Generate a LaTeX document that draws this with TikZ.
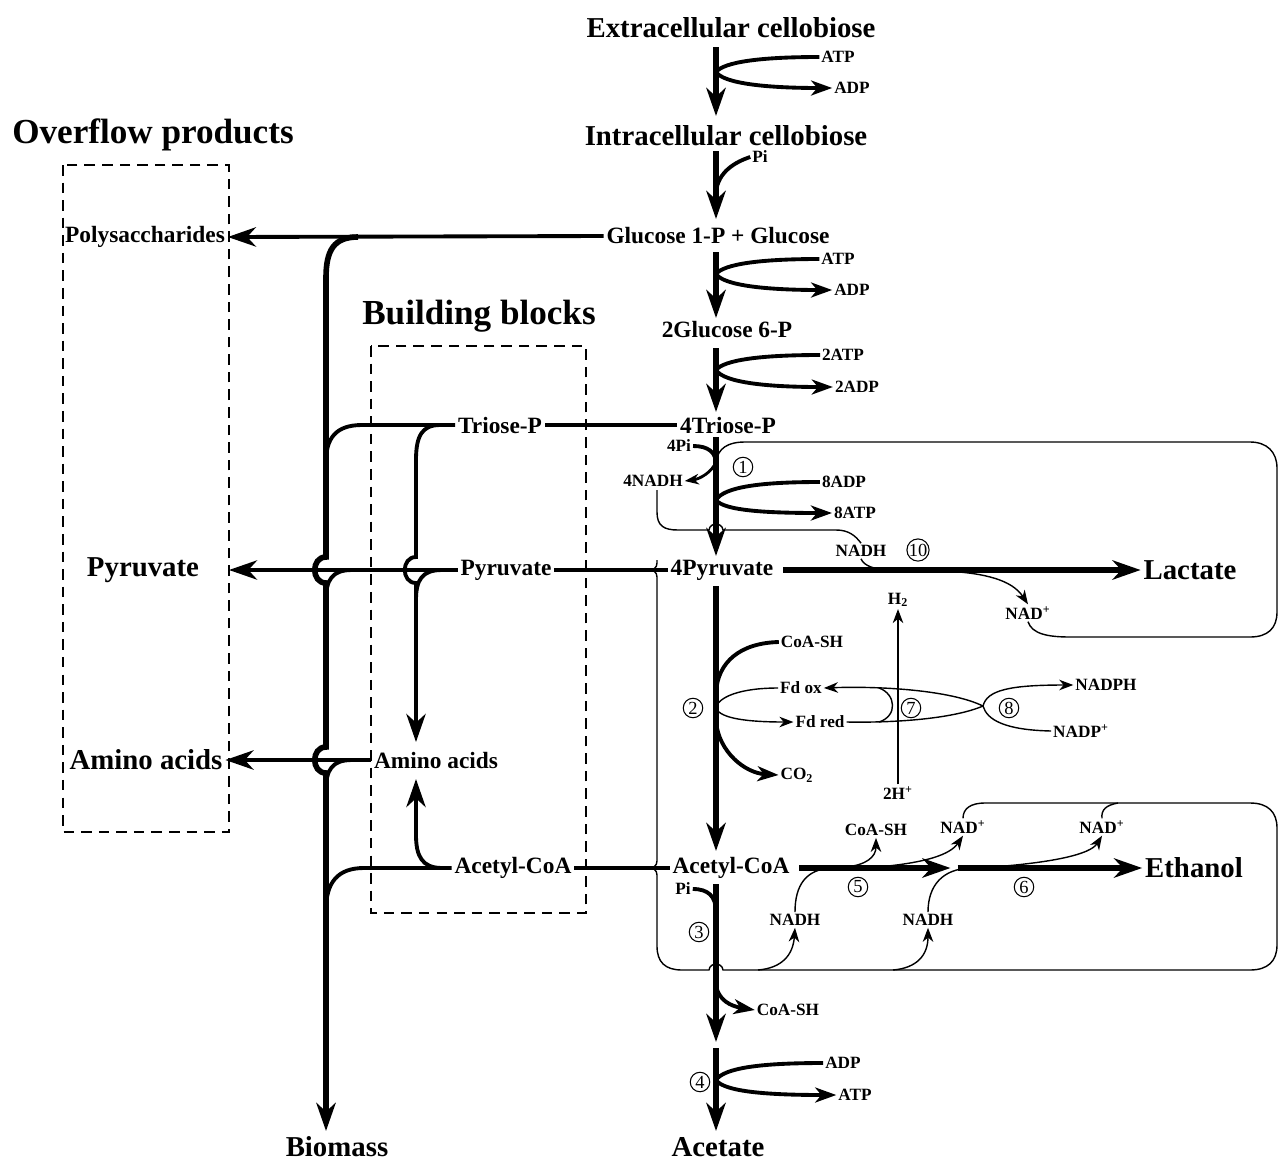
\documentclass[tikz,border=0pt]{standalone}
\usepackage{fontspec}
\setmainfont{Liberation Serif}
\usetikzlibrary{arrows.meta}
\begin{document}
\begin{tikzpicture}[x=0.02cm,y=-0.02cm,
  big/.style={font=\fontsize{16.4}{18}\selectfont\bfseries, inner sep=1.5pt},
  head/.style={font=\fontsize{20}{22}\selectfont\bfseries, inner sep=1pt},
  med/.style={font=\fontsize{13.3}{15}\selectfont\bfseries, inner sep=1.5pt},
  sml/.style={font=\fontsize{9.8}{11}\selectfont\bfseries, inner sep=1pt},
  num/.style={circle, draw, line width=0.6pt, inner sep=0pt, minimum size=0.39cm, font=\fontsize{10.5}{10.5}\selectfont},
  trunk/.style={line width=3pt},
  ltrunk/.style={line width=3.2pt},
  thick2/.style={line width=2.2pt},
  mid1/.style={line width=1.6pt},
  thin1/.style={line width=0.8pt},
  tipL/.style={-{Stealth[length=16pt,width=11pt,inset=5pt]}},
  tipM/.style={-{Stealth[length=12pt,width=8.5pt,inset=3.5pt]}},
  tipS/.style={-{Stealth[length=8pt,width=6pt,inset=2.5pt]}},
  dbox/.style={line width=1.1pt, dash pattern=on 6pt off 4pt},
]
\useasboundingbox (0,0) rectangle (1279,1164);

% ---------- headings and main labels ----------
\node[big] (ext) at (731,28) {Extracellular cellobiose};
\node[big] (intra) at (726,136) {Intracellular cellobiose};
\node[med] (glc) at (718,236) {Glucose 1-P + Glucose};
\node[med] (g6p) at (727,330) {2Glucose 6-P};
\node[med] (t4) at (728,425) {4Triose-P};
\node[med] (p4) at (722,570) {4Pyruvate};
\node[med] (ac4) at (731,868) {Acetyl-CoA};
\node[big] (acet) at (718,1147) {Acetate};
\node[big] (lac) at (1190,570) {Lactate};
\node[big] (eth) at (1194,868) {Ethanol};
\node[head] (ovf) at (153,135) {Overflow products};
\node[head] (bb) at (479,316) {Building blocks};
\node[med] (poly) at (145,237) {Polysaccharides};
\node[big] (pyrL) at (143,570) {Pyruvate};
\node[big] (aaL) at (146,760) {Amino acids};
\node[big] (bio) at (337,1147) {Biomass};
\node[med] (tri) at (500,425) {Triose-P};
\node[med] (pyr) at (506,570) {Pyruvate};
\node[med] (aa) at (436,760) {Amino acids};
\node[med] (acb) at (513,868) {Acetyl-CoA};
\coordinate (pyrTip) at (229,570);

% ---------- small labels ----------
\node[sml] (atp1) at (838,57) {ATP};
\node[sml] (adp1) at (852,88) {ADP};
\node[sml] (pi1) at (760,157) {Pi};
\node[sml] (atp2) at (838,259) {ATP};
\node[sml] (adp2) at (852,290) {ADP};
\node[sml] (atp3) at (843,355) {2ATP};
\node[sml] (adp3) at (857,387) {2ADP};
\node[sml] (pi4) at (679,446) {4Pi};
\node[sml] (nadh4) at (653,481) {4NADH};
\node[sml] (adp8) at (844,482) {8ADP};
\node[sml] (atp8) at (855,513) {8ATP};
\node[sml] (nadh10) at (861,551) {NADH};
\node[sml] (nad10) at (1028,613) {NAD\textsuperscript{+}};
\node[sml] (h2) at (898,600) {H\textsubscript{2}};
\node[sml] (coa2) at (812,642) {CoA-SH};
\node[sml] (fdox) at (801,688) {Fd ox};
\node[sml] (fdred) at (820,722) {Fd red};
\node[sml] (co2) at (797,775) {CO\textsubscript{2}};
\node[sml] (hp) at (898,793) {2H\textsuperscript{+}};
\node[sml] (nadph) at (1106,685) {NADPH};
\node[sml] (nadp) at (1081,731) {NADP\textsuperscript{+}};
\node[sml] (coa5) at (876,830) {CoA-SH};
\node[sml] (nad5) at (963,827) {NAD\textsuperscript{+}};
\node[sml] (nad6) at (1102,827) {NAD\textsuperscript{+}};
\node[sml] (pi3) at (683,889) {Pi};
\node[sml] (nadh5) at (795,920) {NADH};
\node[sml] (nadh6) at (928,920) {NADH};
\node[sml] (coa3) at (788,1010) {CoA-SH};
\node[sml] (adp4) at (843,1063) {ADP};
\node[sml] (atp4) at (855,1095) {ATP};

% ---------- reaction numbers ----------
\node[num] (r1) at (743,467) {1};
\node[num] (r2) at (693,708) {2};
\node[num] (r3) at (699,932) {3};
\node[num] (r4) at (700,1082) {4};
\node[num] (r5) at (858,887) {5};
\node[num] (r6) at (1024,887) {6};
\node[num] (r7) at (911,708) {7};
\node[num] (r8) at (1009,708) {8};
\node[num] (r10) at (918,550) {10};

% ---------- dashed boxes ----------
\draw[dbox] (63,165) rectangle (229,832);
\draw[dbox] (371,346) rectangle (586,913);

% ---------- main trunk ----------
\draw[trunk,tipL] (716,47) -- (716,116);
\draw[thick2] (atp1.west) .. controls (760,57) and (724,62) .. (716,72);
\draw[thick2,tipM] (716,72) .. controls (724,84) and (770,88) .. (adp1.west);

\draw[trunk,tipL] (716,151) -- (716,219);
\draw[thick2] (pi1.west) .. controls (735,162) and (718,172) .. (716,192);

\draw[trunk,tipL] (716,252) -- (716,318);
\draw[thick2] (atp2.west) .. controls (760,259) and (724,264) .. (716,274);
\draw[thick2,tipM] (716,274) .. controls (724,286) and (770,290) .. (adp2.west);

\draw[trunk,tipL] (716,348) -- (716,412);
\draw[thick2] (atp3.west) .. controls (760,355) and (724,360) .. (716,370);
\draw[thick2,tipM] (716,370) .. controls (724,383) and (770,387) .. (adp3.west);

\draw[trunk,tipL] (716,437) -- (716,556);
\draw[thick2] (pi4.east) .. controls (708,446) and (716,452) .. (716,464);
\draw[mid1,tipS] (716,462) .. controls (712,472) and (700,479) .. (nadh4.east);
\draw[thick2] (adp8.west) .. controls (760,482) and (724,487) .. (716,500);
\draw[thick2,tipM] (716,500) .. controls (724,511) and (770,513) .. (atp8.west);

\draw[trunk,tipL] (716,586) -- (716,851);
\draw[thick2] (coa2.west) .. controls (740,643) and (718,662) .. (716,692);
\draw[thick2,tipM] (716,722) .. controls (719,752) and (745,773) .. (co2.west);
\draw[thin1] (fdox.west) .. controls (740,688) and (718,697) .. (716,708);
\draw[thin1,tipS] (716,708) .. controls (720,719) and (750,722) .. (fdred.west);

\coordinate (j8) at (983,706);
\draw[thin1,tipS] (j8) .. controls (950,690) and (880,686) .. (fdox.east);
\draw[thin1] (fdred.east) .. controls (900,723) and (955,718) .. (j8);
\draw[thin1] (879,688) .. controls (896,694) and (898,716) .. (879,722);
\draw[thin1,tipS] (j8) .. controls (987,690) and (1010,685) .. (nadph.west);
\draw[thin1] (j8) .. controls (987,720) and (1005,730) .. (nadp.west);
\draw[thin1,tipS] (hp.north) -- (h2.south);

\draw[trunk,tipL] (716,884) -- (716,1042);
\draw[thick2] (pi3.east) .. controls (708,889) and (716,896) .. (716,912);
\draw[thick2,tipM] (716,986) .. controls (719,1000) and (730,1006) .. (coa3.west);

\draw[trunk,tipL] (716,1048) -- (716,1131);
\draw[thick2] (adp4.west) .. controls (760,1063) and (724,1068) .. (716,1080);
\draw[thick2,tipM] (716,1080) .. controls (724,1092) and (770,1095) .. (atp4.west);

% ---------- lactate and ethanol ----------
\draw[trunk,tipL,shorten <=4pt] (p4.east) -- (lac.west);
\coordinate (emid) at (954,868);
\draw[trunk,tipL,shorten <=4pt] (ac4.east) -- ([xshift=-2pt]emid);
\draw[trunk,tipL] ([xshift=2pt]emid) -- (eth.west);

% ---------- left network ----------
\draw[thick2,tipL] (glc.west) -- (poly.east);
\draw[ltrunk,tipL] (358,237) .. controls (334,237) and (326,250) .. (326,278)
  -- (326,557) .. controls (311,557) and (311,583) .. (326,583)
  -- (326,747) .. controls (311,747) and (311,773) .. (326,773)
  -- (326,1131);

\draw[thick2] (t4.west) -- (tri.east);
\draw[thick2] (tri.west) -- (362,425) .. controls (336,425) and (326,438) .. (326,462);
\draw[thick2,tipL] (440,425) .. controls (422,425) and (416,436) .. (416,460)
  -- (416,557) .. controls (401,557) and (401,583) .. (416,583) -- (416,742);

\draw[thick2] (p4.west) -- (pyr.east);
\draw[thick2,tipL] (pyr.west) -- (pyrTip);
\draw[thick2] (442,570) .. controls (422,570) and (416,580) .. (416,600);
\draw[thick2] (352,570) .. controls (332,570) and (326,580) .. (326,600);

\draw[thick2,tipL] (aa.west) -- (aaL.east);
\draw[thick2] (352,760) .. controls (332,760) and (326,770) .. (326,790);

\draw[thick2] (ac4.west) -- (acb.east);
\draw[thick2] (acb.west) -- (364,868) .. controls (338,868) and (326,882) .. (326,910);
\draw[thick2,tipL] (442,868) .. controls (422,868) and (416,856) .. (416,835) -- (416,779);

% ---------- NADH / NAD loops ----------
\draw[thin1] (657,490) -- (657,512) .. controls (657,526) and (664,530) .. (678,530)
  -- (709,530) .. controls (710,522) and (722,522) .. (723,530)
  -- (836,530) .. controls (848,530) and (855,535) .. (nadh10.north);
\draw[thin1] (nadh10.south) .. controls (864,566) and (875,570) .. (892,570);
\draw[thin1,tipS] (945,571) .. controls (985,573) and (1012,580) .. (nad10.north);
\draw[thin1] (nad10.south) .. controls (1032,634) and (1048,637) .. (1070,637)
  -- (1250,637) .. controls (1268,637) and (1277,628) .. (1277,612)
  -- (1277,468) .. controls (1277,452) and (1267,442) .. (1250,442)
  -- (745,442) .. controls (728,442) and (718,448) .. (716,462);

\draw[thin1] (657,560) -- (657,563) .. controls (657,568) and (653,570) .. (650,570)
  .. controls (653,570) and (657,572) .. (657,577)
  -- (657,861) .. controls (657,866) and (653,868) .. (650,868)
  .. controls (653,868) and (657,870) .. (657,875)
  -- (657,946) .. controls (657,962) and (665,970) .. (682,970)
  -- (709,970) .. controls (710,962) and (722,962) .. (723,970)
  -- (1250,970) .. controls (1268,970) and (1277,961) .. (1277,945)
  -- (1277,828) .. controls (1277,812) and (1268,803) .. (1250,803)
  -- (985,803) .. controls (970,803) and (963,809) .. (nad5.north);
\draw[thin1] (1118,803) .. controls (1106,805) and (1101,810) .. (nad6.north);

\draw[thin1,tipS] (758,970) .. controls (782,968) and (793,955) .. (nadh5.south);
\draw[thin1,tipS] (893,970) .. controls (917,968) and (928,955) .. (nadh6.south);
\draw[thin1] (nadh5.north) .. controls (795,885) and (806,869) .. (832,868);
\draw[thin1] (nadh6.north) .. controls (928,885) and (943,869) .. (970,868);
\draw[thin1,tipS] (846,867) .. controls (866,865) and (876,857) .. (coa5.south);
\draw[thin1,tipS] (888,866) .. controls (925,862) and (950,855) .. (nad5.south);
\draw[thin1,tipS] (1005,866) .. controls (1050,862) and (1090,855) .. (nad6.south);
\end{tikzpicture}
\end{document}
